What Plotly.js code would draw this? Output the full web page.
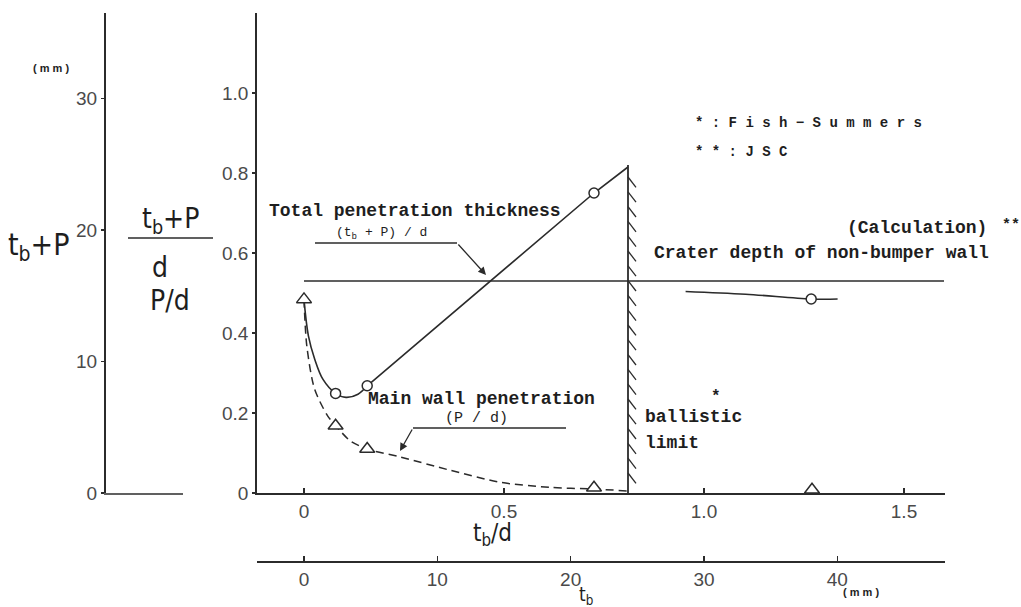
<!DOCTYPE html>
<html>
<head>
<meta charset="utf-8">
<script src="https://cdn.plot.ly/plotly-3.0.1.min.js"></script>
<style>html,body{margin:0;padding:0;background:#fff;}#chart{width:1021px;height:607px;}</style>
</head>
<body>
<div id="chart"></div>
<script>
// ---- data ----
// test points: bumper thickness ratio tb/d
const testTbD      = [0, 0.079, 0.158, 0.725, 1.27];
// main wall penetration P/d (triangles)
const mainWallPD   = [0.484, 0.168, 0.110, 0.013, 0.008];
// total penetration thickness (tb+P)/d (circles)
const totalTbD     = [0.079, 0.158, 0.725];
const totalPD      = [0.249, 0.268, 0.750];
// drawn curve through total penetration (curved part)
const totalCurveX  = [0, 0.011, 0.027, 0.0475, 0.079, 0.105, 0.135, 0.158];
const totalCurveY  = [0.484, 0.393, 0.334, 0.284, 0.249, 0.239, 0.247, 0.268];
// straight part of total penetration line up to ballistic limit
const totalLineX   = [0.158, 0.725, 0.81];
const totalLineY   = [0.268, 0.750, 0.815];
// dashed main wall penetration curve
const mainCurveX   = [0, 0.007, 0.0265, 0.059, 0.0795, 0.116, 0.158, 0.241, 0.365, 0.49, 0.615, 0.725, 0.81];
const mainCurveY   = [0.484, 0.368, 0.26, 0.193, 0.168, 0.130, 0.110, 0.090, 0.057, 0.027, 0.014, 0.010, 0.005];
// crater depth of non-bumper wall (calculation, JSC)
const craterX      = [0, 1.6];
const craterY      = [0.53, 0.53];
// short segment with circle at right
const sideX        = [0.954, 1.104, 1.268, 1.334];
const sideY        = [0.504, 0.497, 0.485, 0.485];
const sidePointX   = [1.268];
const sidePointY   = [0.485];
// ballistic limit
const ballisticX   = 0.81;
const ballisticTop = 0.82;
// axis ticks
const xTickVals  = [0, 0.5, 1.0, 1.5];
const xTickText  = ['0', '0.5', '1.0', '1.5'];
const yTickVals  = [0, 0.2, 0.4, 0.6, 0.8, 1.0];
const yTickText  = ['0', '0.2', '0.4', '0.6', '0.8', '1.0'];
const tbTickVals = [0, 10, 20, 30, 40];
const mmTickVals = [0, 10, 20, 30];
const dMM = 30; // projectile diameter (mm) linking tb/d and tb scales

// ---- layout helpers ----
const W = 1021, H = 607;
const px = x => x / W;
const py = y => 1 - y / H;
const INK = '#2b2b2b';
const TXT = '#1e1e1e';
const MONO = '"Liberation Mono", "DejaVu Sans Mono", monospace';
const NARROW = '"Liberation Sans Narrow", "DejaVu Sans Condensed", "Liberation Sans", sans-serif';
const SANS = '"Liberation Sans", Arial, sans-serif';

// hatch strokes along ballistic limit line
const hatchX = [], hatchY = [];
for (let y = ballisticTop - 0.03; y > 0.02; y -= 0.037) {
  hatchX.push(ballisticX, ballisticX + 0.02, null);
  hatchY.push(y, y - 0.026, null);
}

const xMin = -0.1175, xMax = 1.6025;

const traces = [
  {x: totalCurveX, y: totalCurveY, mode: 'lines', line: {color: INK, width: 1.6, shape: 'spline', smoothing: 1}, hoverinfo: 'skip'},
  {x: totalLineX, y: totalLineY, mode: 'lines', line: {color: INK, width: 1.6}, hoverinfo: 'skip'},
  {x: mainCurveX, y: mainCurveY, mode: 'lines', line: {color: INK, width: 1.5, dash: '8px,5px', shape: 'spline', smoothing: 0.8}, hoverinfo: 'skip'},
  {x: craterX, y: craterY, mode: 'lines', line: {color: INK, width: 1.6}, hoverinfo: 'skip'},
  {x: sideX, y: sideY, mode: 'lines', line: {color: INK, width: 1.5, shape: 'spline'}, hoverinfo: 'skip'},
  {x: [ballisticX, ballisticX], y: [0, ballisticTop], mode: 'lines', line: {color: INK, width: 1.8}, hoverinfo: 'skip'},
  {x: hatchX, y: hatchY, mode: 'lines', line: {color: INK, width: 1.3}, hoverinfo: 'skip', connectgaps: false},
  {x: totalTbD, y: totalPD, mode: 'markers', marker: {symbol: 'circle', size: 10, color: '#fff', line: {color: INK, width: 1.5}}, hoverinfo: 'skip'},
  {x: sidePointX, y: sidePointY, mode: 'markers', marker: {symbol: 'circle', size: 10, color: '#fff', line: {color: INK, width: 1.5}}, hoverinfo: 'skip'},
  {x: testTbD, y: mainWallPD, mode: 'markers', marker: {symbol: 'triangle-up', size: 13, color: '#fff', line: {color: INK, width: 1.5}}, hoverinfo: 'skip'},
  {x: [null], y: [null], xaxis: 'x2', yaxis: 'y2', mode: 'markers', hoverinfo: 'skip'}
];

function ann(text, x, y, size, opts) {
  return Object.assign({
    text: text, xref: 'paper', yref: 'paper', x: px(x), y: py(y),
    xanchor: 'left', yanchor: 'middle', showarrow: false,
    font: {family: MONO, size: size, color: TXT, weight: 'bold'}
  }, opts || {});
}

const annotations = [
  ann('Total penetration thickness', 267, 211, 18),
  ann('(t<sub>b</sub> + P) / d', 381, 233, 13, {xanchor: 'center', font: {family: MONO, size: 13, color: TXT}}),
  ann('Main wall penetration', 366, 399, 18),
  ann('(P / d)', 476, 418, 15, {xanchor: 'center', font: {family: MONO, size: 15, color: TXT}}),
  ann('Crater depth of non-bumper wall', 652, 253, 18),
  ann('(Calculation)', 845, 228, 18),
  ann('**', 1000, 225, 15),
  ann('* : F i s h − S u m m e r s', 693, 123, 14),
  ann('* * : J S C', 693, 152, 14),
  ann('*', 709, 397, 16),
  ann('ballistic', 643, 417, 18),
  ann('limit', 643, 443, 18),
  ann('t<sub>b</sub>/d', 492, 534, 24, {xanchor: 'center', font: {family: NARROW, size: 24, color: TXT}}),
  ann('t<sub>b</sub>', 586, 595, 19, {xanchor: 'center', font: {family: NARROW, size: 19, color: TXT}}),
  ann('( m m )', 861, 592, 11, {xanchor: 'center', font: {family: SANS, size: 11, color: TXT, weight: 'bold'}}),
  ann('( m m )', 51, 68, 11, {xanchor: 'center', font: {family: SANS, size: 11, color: TXT, weight: 'bold'}}),
  ann('t<sub>b</sub>+P', 38, 247, 30, {xanchor: 'center', font: {family: NARROW, size: 30, color: TXT}}),
  ann('t<sub>b</sub>+P', 170, 220, 28, {xanchor: 'center', font: {family: NARROW, size: 28, color: TXT}}),
  ann('d', 160, 267, 28, {xanchor: 'center', font: {family: NARROW, size: 28, color: TXT}}),
  ann('P/d', 170, 300, 28, {xanchor: 'center', font: {family: NARROW, size: 28, color: TXT}}),
  // leader arrows
  {xref: 'x', yref: 'y', axref: 'x', ayref: 'y', x: 0.455, y: 0.545, ax: 0.3825, ay: 0.625,
   showarrow: true, arrowhead: 2, arrowsize: 1.2, arrowwidth: 1.3, arrowcolor: INK, text: ''},
  {xref: 'x', yref: 'y', axref: 'x', ayref: 'y', x: 0.24, y: 0.105, ax: 0.2725, ay: 0.1625,
   showarrow: true, arrowhead: 2, arrowsize: 1.2, arrowwidth: 1.3, arrowcolor: INK, text: ''}
];

const shapes = [
  // leader horizontals
  {type: 'line', xref: 'x', yref: 'y', x0: 0.0275, x1: 0.3825, y0: 0.625, y1: 0.625, line: {color: INK, width: 1.3}},
  {type: 'line', xref: 'x', yref: 'y', x0: 0.2725, x1: 0.655, y0: 0.1625, y1: 0.1625, line: {color: INK, width: 1.3}},
  // fraction bar
  {type: 'line', xref: 'paper', yref: 'paper', x0: px(128), x1: px(213), y0: py(238), y1: py(238), line: {color: INK, width: 1.6}},
  // foot of left mm axis
  {type: 'line', xref: 'paper', yref: 'paper', x0: px(104), x1: px(183), y0: py(494), y1: py(494), line: {color: INK, width: 1.6}}
];

const axisFont = {family: SANS, size: 19, color: '#4a4a4a'};

const layout = {
  width: W, height: H,
  margin: {l: 0, r: 0, t: 0, b: 0},
  paper_bgcolor: '#fff', plot_bgcolor: 'rgba(0,0,0,0)',
  showlegend: false,
  xaxis: {
    domain: [px(257), px(945)], range: [xMin, xMax], anchor: 'y',
    showline: true, linecolor: INK, linewidth: 1.8, showgrid: false, zeroline: false,
    ticks: 'inside', ticklen: 5, tickcolor: INK, tickwidth: 1.2,
    tickvals: xTickVals, ticktext: xTickText, tickfont: axisFont
  },
  yaxis: {
    domain: [py(493), py(13)], range: [0, 1.2], anchor: 'x',
    showline: true, linecolor: INK, linewidth: 1.8, showgrid: false, zeroline: false,
    ticks: 'outside', ticklen: 3, tickcolor: INK, tickwidth: 1.2,
    tickvals: yTickVals, ticktext: yTickText, tickfont: axisFont
  },
  xaxis2: {
    overlaying: 'x', anchor: 'free', position: py(561),
    range: [xMin * dMM, xMax * dMM],
    showline: true, linecolor: INK, linewidth: 1.8, showgrid: false, zeroline: false,
    ticks: 'inside', ticklen: 5, tickcolor: INK, tickwidth: 1.2,
    tickvals: tbTickVals, tickfont: axisFont
  },
  yaxis2: {
    overlaying: 'y', anchor: 'free', position: px(104), side: 'left',
    range: [0, 36.5],
    showline: true, linecolor: INK, linewidth: 1.8, showgrid: false, zeroline: false,
    ticks: 'outside', ticklen: 3, tickcolor: INK, tickwidth: 1.2,
    tickvals: mmTickVals, tickfont: axisFont
  },
  annotations: annotations,
  shapes: shapes
};

Plotly.newPlot('chart', traces, layout, {staticPlot: true, displayModeBar: false});
</script>
</body>
</html>
